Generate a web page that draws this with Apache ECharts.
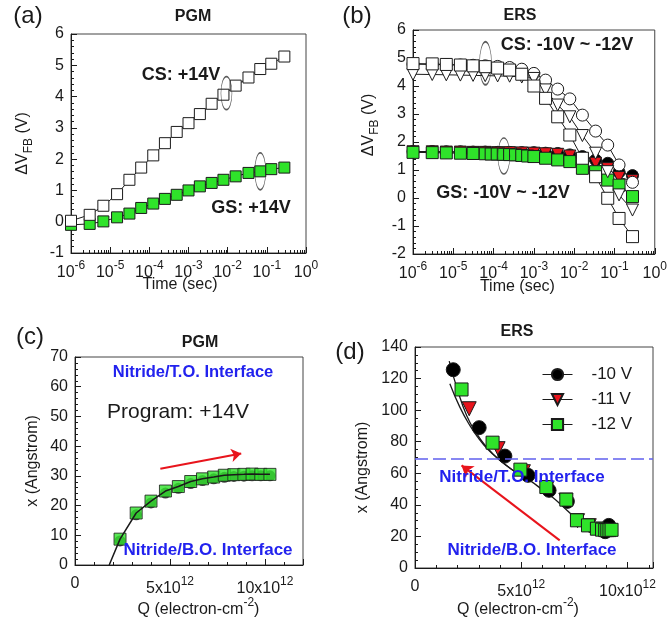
<!DOCTYPE html>
<html>
<head>
<meta charset="utf-8">
<script src="https://cdn.jsdelivr.net/npm/echarts@6/dist/echarts.min.js"></script>
<style>
html, body { margin: 0; padding: 0; background: #fff; }
#main { width: 670px; height: 624px; }
</style>
</head>
<body>
<div id="main"></div>
<script>
const FONT = '"Liberation Sans", Arial, sans-serif';
const INK = '#1a1a1a';
const GREEN = '#2fe32a';
const RED = '#e8141c';
const BLUE = '#2222ee';

// (a) PGM: flat-band shift vs. time, +14V
const timeA = [1e-6, 3e-6, 6.7e-6, 1.5e-5, 3.1e-5, 6.2e-5, 1.26e-4, 2.5e-4, 5e-4, 1e-3, 1.95e-3, 3.9e-3, 7.8e-3, 1.6e-2, 3.4e-2, 6.8e-2, 0.13, 0.28];
const csA = [0.03, 0.22, 0.51, 0.88, 1.34, 1.73, 2.12, 2.51, 2.87, 3.15, 3.44, 3.77, 4.06, 4.35, 4.61, 4.88, 5.05, 5.28];
const gsA = [-0.1, -0.07, 0.01, 0.14, 0.26, 0.44, 0.58, 0.73, 0.86, 1.0, 1.13, 1.24, 1.34, 1.45, 1.56, 1.61, 1.68, 1.73];
const ellipseCsA = [9.3e-3, 4.11];
const ellipseGsA = [6.8e-2, 1.61];

// (b) ERS: -10V (circles), -11V (triangles), -12V (squares)
const timeB = [1e-6, 3e-6, 6.7e-6, 1.5e-5, 3.1e-5, 6.2e-5, 1.26e-4, 2.5e-4, 5e-4, 1e-3, 1.95e-3, 3.9e-3, 7.8e-3, 1.6e-2, 3.4e-2, 6.8e-2, 0.13, 0.28];
const timeBgs12 = [1e-6, 3e-6, 6.7e-6, 1.5e-5, 3.1e-5, 6.2e-5, 8.7e-5, 1.23e-4, 1.74e-4, 2.5e-4, 3.5e-4, 5e-4, 7e-4, 1e-3, 1.95e-3, 3.9e-3, 7.8e-3, 1.6e-2, 3.4e-2, 6.8e-2, 0.13, 0.28];
const csB10 = [4.78, 4.77, 4.76, 4.75, 4.74, 4.72, 4.7, 4.66, 4.6, 4.45, 4.21, 3.89, 3.54, 2.96, 2.39, 1.89, 1.18, 0.56];
const csB11 = [4.42, 4.41, 4.4, 4.39, 4.38, 4.37, 4.36, 4.35, 4.32, 4.27, 3.86, 3.32, 2.9, 2.23, 1.6, 0.94, 0.11, -0.43];
const csB12 = [4.8, 4.79, 4.77, 4.75, 4.72, 4.69, 4.64, 4.57, 4.42, 4.0, 3.56, 2.9, 2.25, 1.42, 0.76, -0.01, -0.73, -1.38];
const gsB10 = [1.66, 1.66, 1.65, 1.65, 1.64, 1.64, 1.63, 1.63, 1.62, 1.62, 1.6, 1.59, 1.54, 1.48, 1.36, 1.24, 0.92, 0.8];
const gsB11 = [1.65, 1.65, 1.64, 1.64, 1.63, 1.63, 1.62, 1.62, 1.61, 1.6, 1.58, 1.56, 1.5, 1.4, 1.24, 1.05, 0.73, 0.62];
const gsB12 = [1.63, 1.62, 1.61, 1.6, 1.59, 1.58, 1.57, 1.57, 1.56, 1.55, 1.54, 1.52, 1.5, 1.48, 1.42, 1.36, 1.3, 1.06, 0.94, 0.64, 0.46, 0.05];
const ellipseCsB = [6.3e-5, 4.81];
const ellipseGsB = [1.8e-4, 1.5];

// (c) PGM: charge centroid x vs. Q (Q in 10^12 electron/cm2)
const qC = [2.37, 3.22, 4.0, 4.76, 5.44, 6.09, 6.71, 7.3, 7.86, 8.36, 8.89, 9.32, 9.78, 10.26];
const xC = [8.7, 17.5, 21.5, 24.9, 26.4, 28.1, 29.0, 29.6, 30.2, 30.4, 30.5, 30.6, 30.5, 30.5];
const xC10 = [8.1, 16.9, 20.9, 24.2, 25.8, 27.4, 28.4, 29.0, 29.5, 29.8, 29.9, 30.0, 30.0, 30.0];
const fitStartC = [1.8, 0];
const arrowC = [[4.49, 32.4], [8.75, 37.5]];

// (d) ERS: charge centroid x vs. Q
const q10 = [1.8, 3.02, 4.23, 5.32, 6.31, 7.17, 8.95, 9.12];
const x10 = [125.6, 88.9, 70.9, 58.7, 49.2, 42.2, 23.0, 27.0];
const q11 = [2.55, 3.91, 5.1, 6.2, 7.1, 7.65, 8.2, 8.7, 9.05];
const x11 = [100.9, 75.6, 61.0, 50.5, 43.0, 30.0, 26.8, 24.6, 23.8];
const q12 = [2.19, 3.65, 4.96, 6.18, 7.12, 7.62, 8.14, 8.56, 8.8, 8.95, 9.05, 9.15, 9.25];
const x12 = [113.1, 79.4, 62.3, 51.3, 43.3, 30.2, 27.0, 24.9, 24.3, 24.0, 24.0, 24.0, 24.2];
const fit1Q = [1.61, 1.96, 2.43, 2.9, 3.37, 3.99, 4.62, 5.4, 6.0, 6.5, 7.0, 7.5, 8.0, 8.5, 9.0];
const fit1X = [131, 114.6, 96.6, 85.1, 76.6, 68.2, 61.8, 55.5, 49.5, 44.5, 38.5, 32.5, 28.5, 26, 24.5];
const fit2Q = [1.64, 2.11, 2.58, 3.0, 3.4, 4.0, 4.62];
const fit2X = [116.7, 101.9, 90.3, 82, 75.5, 68.2, 61.8];
const interfaceD = 69;
const arrowD = [[6.81, 17.5], [2.19, 65]];

const pts = (xs, ys) => xs.map((x, i) => [x, ys[i]]);

const minorLog = [];
for (let e = -6; e < 0; e++) {
    for (let m = 2; m <= 9; m++) minorLog.push(m * Math.pow(10, e));
}

// superscript / subscript helpers for rich text
const supRich = {
    n: { fontSize: 16, verticalAlign: 'bottom', color: INK, fontFamily: FONT },
    p: { fontSize: 12, verticalAlign: 'bottom', padding: [0, 0, 9, 0], color: INK, fontFamily: FONT }
};
const subRich = {
    n: { fontSize: 16, verticalAlign: 'top', color: INK, fontFamily: FONT },
    b: { fontSize: 12, verticalAlign: 'top', padding: [8, 0, 0, 0], color: INK, fontFamily: FONT }
};

const logLabel = v => '{n|10}{p|' + Math.round(Math.log10(v)) + '}';
const qLabel = v => (v % 5 !== 0 ? '' : (v === 0 ? '{n|0}' : '{n|' + v + 'x10}{p|12}'));

const tick = { show: true, inside: true, length: 6, lineStyle: { color: INK } };
const minor = { show: true, splitNumber: 5, length: 3, lineStyle: { color: INK } };

function timeAxis (grid, pad, gap) {
    return {
        type: 'log', gridIndex: grid, logBase: 10, min: 1e-6, max: 1, splitNumber: 6,
        axisLine: { onZero: false, lineStyle: { color: INK } },
        axisTick: tick,
        axisLabel: { margin: 7, formatter: logLabel, rich: supRich },
        splitLine: { show: false },
        name: 'Time (sec)', nameLocation: 'middle', nameGap: gap, nameMoveOverlap: false,
        nameTextStyle: { fontSize: 16, color: INK, fontFamily: FONT, padding: pad }
    };
}
function qAxis (grid, max, pad, gap) {
    return {
        type: 'value', gridIndex: grid, min: 0, max: max, interval: 5,
        axisLine: { onZero: false, lineStyle: { color: INK } },
        axisTick: tick,
        axisLabel: { margin: 11, formatter: qLabel, rich: supRich },
        splitLine: { show: false },
        name: '{n|Q (electron-cm}{p|-2}{n|)}', nameLocation: 'middle', nameGap: gap, nameMoveOverlap: false,
        nameTextStyle: { rich: supRich, padding: pad }
    };
}
// hidden axes that only carry the minor ticks on the bottom
function minorLogAxis (grid) {
    return {
        type: 'log', gridIndex: grid, position: 'bottom', logBase: 10, min: 1e-6, max: 1,
        axisLine: { show: false, onZero: false }, axisLabel: { show: false }, splitLine: { show: false },
        axisTick: { show: true, inside: true, length: 3, customValues: minorLog, lineStyle: { color: INK } }
    };
}
function minorQAxis (grid, max) {
    return {
        type: 'value', gridIndex: grid, position: 'bottom', min: 0, max: max, interval: 1,
        axisLine: { show: false, onZero: false }, axisLabel: { show: false }, splitLine: { show: false },
        axisTick: { show: true, inside: true, length: 3, lineStyle: { color: INK } }
    };
}
function yAxis (grid, min, max, interval, split, name, rich, gap, pad) {
    return {
        type: 'value', gridIndex: grid, min: min, max: max, interval: interval,
        axisLine: { onZero: false, lineStyle: { color: INK } },
        axisTick: tick,
        minorTick: Object.assign({}, minor, { splitNumber: split }),
        axisLabel: { margin: 7, fontSize: 16, color: INK, fontFamily: FONT },
        splitLine: { show: false },
        name: name, nameLocation: 'middle', nameRotate: 90, nameGap: gap,
        nameTextStyle: rich ? { rich: rich, padding: pad } : { fontSize: 16, color: INK, fontFamily: FONT, padding: pad }
    };
}

function marked (grid, data, symbol, size, fill, extra) {
    return Object.assign({
        type: 'line', xAxisIndex: grid, yAxisIndex: grid, data: data,
        symbol: symbol, symbolSize: size, clip: false, silent: true,
        itemStyle: { color: fill, borderColor: INK, borderWidth: 1, opacity: 1 },
        lineStyle: { color: INK, width: 1 }
    }, extra || {});
}
function ellipse (grid, pt, w, h) {
    return {
        type: 'scatter', xAxisIndex: grid, yAxisIndex: grid, data: [pt],
        symbol: 'circle', symbolSize: [w, h], clip: false, silent: true, z: 5,
        itemStyle: { color: 'rgba(0,0,0,0)', borderColor: '#333', borderWidth: 1 }
    };
}
function text (str, x, y, size, weight, color) {
    return {
        type: 'text', x: x, y: y, z: 100, silent: true,
        style: { text: str, fontSize: size, fontWeight: weight || 'normal', fontFamily: FONT,
            fill: color || INK, align: 'center', verticalAlign: 'middle' }
    };
}

const dvName = '{n|ΔV}{b|FB}{n| (V)}';
const frame = { show: true, borderColor: '#444', borderWidth: 1 };

const option = {
    animation: false,
    textStyle: { fontFamily: FONT },
    grid: [
        Object.assign({ left: 71, top: 34, width: 235, height: 219 }, frame),
        Object.assign({ left: 413, top: 30, width: 242, height: 224 }, frame),
        Object.assign({ left: 75, top: 357, width: 228, height: 208 }, frame),
        Object.assign({ left: 415, top: 347, width: 238, height: 221 }, frame)
    ],
    xAxis: [
        timeAxis(0, [0, 17, 0, 0], 24),
        timeAxis(1, [0, 33, 0, 0], 25),
        qAxis(2, 12, [0, 0, 0, 19], 32),
        qAxis(3, 11.2, [0, 32, 0, 0], 29),
        minorLogAxis(0),
        minorLogAxis(1),
        minorQAxis(2, 12),
        minorQAxis(3, 11.2)
    ],
    yAxis: [
        yAxis(0, -1, 6, 1, 5, dvName, subRich, 36, [0, 0, 0, 0]),
        yAxis(1, -2, 6, 1, 5, dvName, subRich, 32, [0, 0, 0, 34]),
        yAxis(2, 0, 70, 10, 5, 'x (Angstrom)', null, 34, [0, 0, 0, 0]),
        yAxis(3, 0, 140, 20, 4, 'x (Angstrom)', null, 44, [0, 20, 0, 0])
    ],
    legend: {
        orient: 'vertical', left: 537, top: 361,
        itemWidth: 30, itemHeight: 14, itemGap: 8,
        data: ['-10 V', '-11 V', '-12 V'],
        lineStyle: { color: INK, width: 1, opacity: 1 },
        textStyle: { fontSize: 17, color: INK, fontFamily: FONT, padding: [0, 0, 0, 14] }
    },
    series: [
        // (a)
        marked(0, pts(timeA, gsA), 'rect', 11, GREEN),
        marked(0, pts(timeA, csA), 'rect', 11, '#fff'),
        ellipse(0, ellipseCsA, 11, 33),
        ellipse(0, ellipseGsA, 11, 37),
        // (b)
        marked(1, pts(timeB, gsB10), 'circle', 12, '#000'),
        marked(1, pts(timeB, gsB11), 'triangle', 12, RED, { symbolRotate: 180 }),
        marked(1, pts(timeBgs12, gsB12), 'rect', 12, GREEN),
        marked(1, pts(timeB, csB10), 'circle', 12, '#fff'),
        marked(1, pts(timeB, csB11), 'triangle', 12, '#fff', { symbolRotate: 180 }),
        marked(1, pts(timeB, csB12), 'rect', 12, '#fff'),
        ellipse(1, ellipseCsB, 12, 43),
        ellipse(1, ellipseGsB, 12, 36),
        // (c)
        {
            type: 'line', xAxisIndex: 2, yAxisIndex: 2, silent: true, symbol: 'none',
            data: [fitStartC].concat(pts(qC, xC)),
            lineStyle: { color: INK, width: 1.5 }
        },
        {
            type: 'scatter', xAxisIndex: 2, yAxisIndex: 2, silent: true,
            data: pts(qC, xC10), symbol: 'circle', symbolSize: 11,
            itemStyle: { color: INK }
        },
        {
            type: 'scatter', xAxisIndex: 2, yAxisIndex: 2, silent: true,
            data: pts(qC, xC), symbol: 'rect', symbolSize: 12,
            itemStyle: { color: GREEN, borderColor: INK, borderWidth: 1 },
            markLine: {
                silent: true, symbol: ['none', 'arrow'], symbolSize: 10,
                label: { show: false },
                lineStyle: { color: RED, width: 2, type: 'solid' },
                data: [[{ coord: arrowC[0] }, { coord: arrowC[1] }]]
            }
        },
        // (d)
        {
            type: 'line', xAxisIndex: 3, yAxisIndex: 3, silent: true, symbol: 'none', smooth: true,
            data: pts(fit1Q, fit1X), lineStyle: { color: INK, width: 1.3 }
        },
        {
            type: 'line', xAxisIndex: 3, yAxisIndex: 3, silent: true, symbol: 'none', smooth: true,
            data: pts(fit2Q, fit2X), lineStyle: { color: INK, width: 1.3 },
            markLine: {
                silent: true, symbol: 'none', label: { show: false },
                lineStyle: { color: '#6060ee', width: 1.5, type: [13, 5] },
                data: [{ yAxis: interfaceD }]
            }
        },
        marked(3, pts(q10, x10), 'circle', 14, '#000', { name: '-10 V', z: 4, lineStyle: { opacity: 0 } }),
        marked(3, pts(q11, x11), 'triangle', 14, RED, { name: '-11 V', z: 3, symbolRotate: 180, lineStyle: { opacity: 0 } }),
        marked(3, pts(q12, x12), 'rect', 13, GREEN, {
            name: '-12 V', z: 5, lineStyle: { opacity: 0 },
            markLine: {
                silent: true, symbol: ['none', 'arrow'], symbolSize: 11,
                label: { show: false },
                lineStyle: { color: RED, width: 2, type: 'solid', opacity: 1 },
                data: [[{ coord: arrowD[0] }, { coord: arrowD[1] }]]
            }
        })
    ],
    graphic: [
        text('(a)', 28, 16, 24),
        text('PGM', 193, 17, 16, 'bold'),
        text('CS: +14V', 181, 75, 18, 'bold'),
        text('GS: +14V', 251, 208, 18, 'bold'),
        text('(b)', 357, 16, 24),
        text('ERS', 520, 16, 16, 'bold'),
        text('CS: -10V ~ -12V', 567, 45, 18, 'bold'),
        text('GS: -10V ~ -12V', 503, 193, 18, 'bold'),
        text('(c)', 30, 337, 24),
        text('PGM', 200, 343, 16, 'bold'),
        text('Nitride/T.O. Interface', 193, 372, 16.5, 'bold', BLUE),
        text('Program: +14V', 178, 412, 21),
        text('Nitride/B.O. Interface', 208, 550, 17, 'bold', BLUE),
        text('(d)', 350, 352, 24),
        text('ERS', 517, 332, 16, 'bold'),
        text('Nitride/T.O. Interface', 522, 477, 17, 'bold', BLUE),
        text('Nitride/B.O. Interface', 532, 550, 17, 'bold', BLUE)
    ]
};

const myChart = echarts.init(document.getElementById('main'));
myChart.setOption(option);
</script>
</body>
</html>
